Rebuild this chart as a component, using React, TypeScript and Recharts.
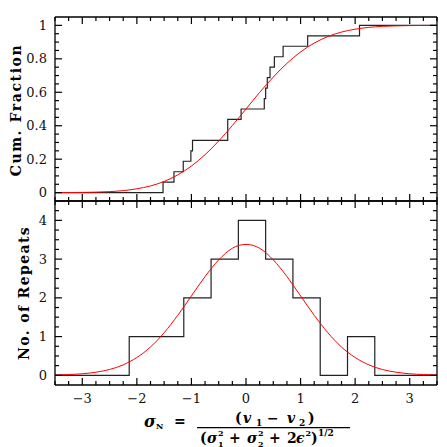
import { LineChart, Line, XAxis, YAxis } from 'recharts';

// histogram: left bin edges and counts (last point closes the step at the right edge)
const histEdges = [-3.5, -2.14, -1.64, -1.14, -0.64, -0.14, 0.36, 0.86, 1.36, 1.86, 2.36, 3.5];
const histCounts = [0, 1, 1, 2, 3, 4, 3, 2, 0, 1, 0, 0];

// empirical cumulative fraction steps
const cdfX = [-3.5, -1.52, -1.32, -1.15, -1.01, -0.98, -0.335, -0.335, -0.09, 0.335, 0.36, 0.39, 0.44, 0.52, 0.68, 1.13, 2.08, 3.5];
const cdfY = [0, 0.0625, 0.125, 0.1875, 0.25, 0.3125, 0.375, 0.4375, 0.5, 0.5625, 0.625, 0.6875, 0.75, 0.8125, 0.875, 0.9375, 1, 1];

// red model curves, read at 0.25 steps
const curveX = [-3.5, -3.25, -3, -2.75, -2.5, -2.25, -2, -1.75, -1.5, -1.25, -1, -0.75, -0.5, -0.25, 0,
  0.25, 0.5, 0.75, 1, 1.25, 1.5, 1.75, 2, 2.25, 2.5, 2.75, 3, 3.25, 3.5];
const gaussY = [0.01, 0.02, 0.04, 0.08, 0.15, 0.27, 0.46, 0.73, 1.1, 1.55, 2.05, 2.55, 2.98, 3.28, 3.38,
  3.28, 2.98, 2.55, 2.05, 1.55, 1.1, 0.73, 0.46, 0.27, 0.15, 0.08, 0.04, 0.02, 0.01];
const cumY = [0.0002, 0.0006, 0.0013, 0.003, 0.006, 0.012, 0.023, 0.04, 0.067, 0.106, 0.159, 0.227, 0.309, 0.401, 0.5,
  0.599, 0.691, 0.773, 0.841, 0.894, 0.933, 0.96, 0.977, 0.988, 0.994, 0.997, 0.9987, 0.9994, 0.9998];

// ticks
const xTicks = curveX;
const xLabels = [-3, -2, -1, 0, 1, 2, 3];
const yTopTicks = Array.from({ length: 21 }, (_, i) => i / 20);
const yTopLabels = [0, 0.2, 0.4, 0.6, 0.8, 1];
const yBotTicks = Array.from({ length: 18 }, (_, i) => i / 4);
const yBotLabels = [0, 1, 2, 3, 4];

const histData = histEdges.map((x, i) => ({ x, y: histCounts[i] }));
const cdfData = cdfX.map((x, i) => ({ x, y: cdfY[i] }));
const gaussData = curveX.map((x, i) => ({ x, y: gaussY[i] }));
const cumData = curveX.map((x, i) => ({ x, y: cumY[i] }));

const W = 447;
const H = 447;
const FONT = '"DejaVu Serif", serif';
const has = (list: number[], v: number) => list.some(l => Math.abs(l - v) < 1e-6);
const fmt = (v: number) => (v < 0 ? '\u2212' + Math.abs(v) : String(v));

// ticks drawn pointing into the frame; dx/dy give the inward direction
const makeTick = (dx: number, dy: number, majors: number[], label: 'left' | 'bottom' | null) => (props: any) => {
  const { x, y, payload } = props;
  const major = has(majors, payload.value);
  const len = major ? 7 : 4;
  return (
    <g>
      <line x1={x} y1={y} x2={x + dx * len} y2={y + dy * len} stroke="#000" strokeWidth={1.2} />
      {label === 'left' && major && (
        <text x={x - 8} y={y} dy="0.35em" textAnchor="end" fontFamily={FONT} fontSize={13} fill="#111">
          {fmt(payload.value)}
        </text>
      )}
      {label === 'bottom' && major && (
        <text x={x} y={y + 13} dy="0.35em" textAnchor="middle" fontFamily={FONT} fontSize={13} fill="#111">
          {fmt(payload.value)}
        </text>
      )}
    </g>
  );
};

const axisLine = { stroke: '#000', strokeWidth: 1.3 };
const common = { tickSize: 0, tickMargin: 0, tickLine: false, interval: 0 as const, axisLine, allowDataOverflow: true };

// axes are 1px thick so Recharts draws them; margins are reduced by that 1px
function Panel({ top, bottom, yDomain, yTicks, yMajors, xLabel, step, curve }: any) {
  return (
    <LineChart width={W} height={H} margin={{ top: top - 1, right: 9, bottom: bottom - 1, left: 54 }}
      style={{ position: 'absolute', left: 0, top: 0 }}>
      <XAxis xAxisId="b" orientation="bottom" type="number" dataKey="x" domain={[-3.5, 3.5]} ticks={xTicks}
        height={1} tick={makeTick(0, -1, xLabels, xLabel ? 'bottom' : null)} {...common} />
      <XAxis xAxisId="t" orientation="top" type="number" dataKey="x" domain={[-3.5, 3.5]} ticks={xTicks}
        height={1} tick={makeTick(0, 1, xLabels, null)} {...common} />
      <YAxis yAxisId="l" orientation="left" type="number" domain={yDomain} ticks={yTicks}
        width={1} tick={makeTick(1, 0, yMajors, 'left')} {...common} />
      <YAxis yAxisId="r" orientation="right" type="number" domain={yDomain} ticks={yTicks}
        width={1} tick={makeTick(-1, 0, yMajors, null)} {...common} />
      <Line xAxisId="t" yAxisId="r" data={step} dataKey="y" stroke="none" dot={false} isAnimationActive={false} />
      <Line xAxisId="b" yAxisId="l" data={step} dataKey="y" type="stepAfter" stroke="#222" strokeWidth={1.2}
        dot={false} isAnimationActive={false} />
      <Line xAxisId="b" yAxisId="l" data={curve} dataKey="y" type="monotone" stroke="#ff0000" strokeWidth={1}
        dot={false} isAnimationActive={false} />
    </LineChart>
  );
}

const bold = { fontFamily: FONT, fontWeight: 'bold' as const, fill: '#000' };

export default function App() {
  return (
    <div style={{ position: 'absolute', left: 0, top: 0, width: W, height: H, background: '#fff' }}>
      <Panel top={17} bottom={H - 201} yDomain={[-0.05, 1.05]} yTicks={yTopTicks} yMajors={yTopLabels}
        xLabel={false} step={cdfData} curve={cumData} />
      <Panel top={201} bottom={H - 385} yDomain={[-0.25, 4.5]} yTicks={yBotTicks} yMajors={yBotLabels}
        xLabel={true} step={histData} curve={gaussData} />
      <svg width={W} height={H} style={{ position: 'absolute', left: 0, top: 0, pointerEvents: 'none' }}>
        <text transform="translate(21,110) rotate(-90)" textAnchor="middle" fontSize={14} letterSpacing={1.6} {...bold}>
          Cum. Fraction
        </text>
        <text transform="translate(29,293) rotate(-90)" textAnchor="middle" fontSize={14} letterSpacing={1.4} {...bold}>
          No. of Repeats
        </text>

        <text fontSize={14} {...bold}>
          <tspan x={144} y={426.5} fontSize={16} fontStyle="italic">σ</tspan>
          <tspan x={156} y={428.5} fontSize={8}>N</tspan>
          <tspan x={174} y={426}>=</tspan>
        </text>

        <text fontSize={14} {...bold}>
          <tspan x={235} y={423}>(</tspan>
          <tspan x={243} y={423} fontStyle="italic">v</tspan>
          <tspan x={256} y={426} fontSize={9}>1</tspan>
          <tspan x={267} y={423}>−</tspan>
          <tspan x={287} y={423} fontStyle="italic">v</tspan>
          <tspan x={299} y={426} fontSize={9}>2</tspan>
          <tspan x={308} y={423}>)</tspan>
        </text>

        <line x1={197} x2={350} y1={427.7} y2={427.7} stroke="#000" strokeWidth={1.2} />

        <text fontSize={14} {...bold}>
          <tspan x={200} y={442.5}>(</tspan>
          <tspan x={207} y={442.5} fontStyle="italic">σ</tspan>
          <tspan x={218} y={436} fontSize={8}>2</tspan>
          <tspan x={218} y={446.5} fontSize={8}>1</tspan>
          <tspan x={229} y={442.5}>+</tspan>
          <tspan x={247} y={442.5} fontStyle="italic">σ</tspan>
          <tspan x={258} y={436} fontSize={8}>2</tspan>
          <tspan x={258} y={446.5} fontSize={8}>2</tspan>
          <tspan x={269} y={442.5}>+</tspan>
          <tspan x={287} y={442.5}>2</tspan>
          <tspan x={296} y={442.5} fontStyle="italic">ϵ</tspan>
          <tspan x={305.5} y={436} fontSize={8}>2</tspan>
          <tspan x={311} y={442.5}>)</tspan>
          <tspan x={318} y={436} fontSize={9}>1/2</tspan>
        </text>
      </svg>
    </div>
  );
}
